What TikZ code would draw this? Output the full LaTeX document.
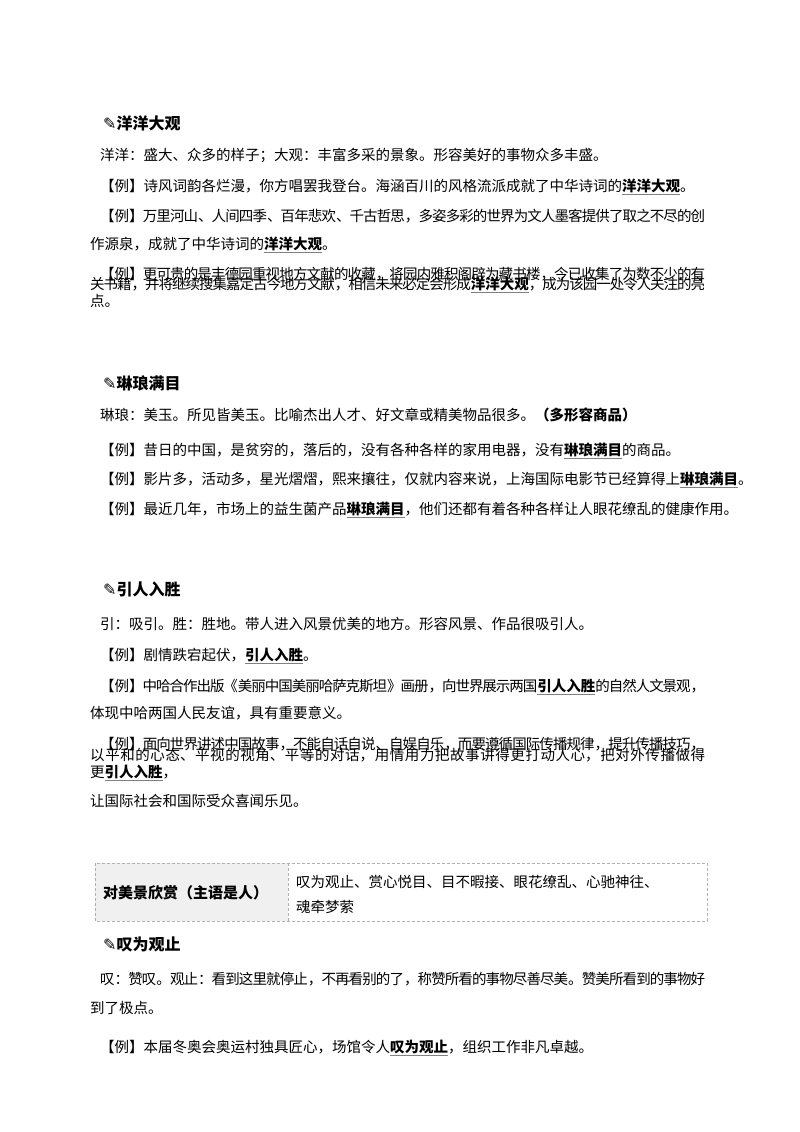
\documentclass[tikz,border=0pt]{standalone}
\usepackage{fontspec}
\setmainfont{Noto Sans CJK SC}
\newfontfamily\symf{DejaVu Sans}
\XeTeXlinebreaklocale "zh"
\XeTeXlinebreakskip=0pt plus 2pt minus 1.5pt
\newsavebox\kwbox
\newcommand\kw[1]{\sbox\kwbox{\bfseries #1}\rlap{\hbox to\wd\kwbox{\color{gray}\xleaders\hbox{\vrule height -2.6pt depth 3.2pt width 1pt\vrule height -3.2pt depth 3.8pt width 1pt}\hfil}}\usebox\kwbox}
\newcommand\fl[1]{\vbox{\hsize=615pt\parfillskip=0pt\parindent=0pt\leftskip=0pt\rightskip=0pt #1}}
\newcommand\fli[1]{\fl{\hskip10pt #1}}
\newcommand\ind{\hskip10pt}
\tikzset{ln/.style={anchor=base west,inner sep=0pt,font=\fontsize{14.5}{17}\selectfont},
hd/.style={anchor=base west,inner sep=0pt,font=\fontsize{16}{19}\selectfont\bfseries}}
\begin{document}
\begin{tikzpicture}[x=1pt,y=-1pt]
\useasboundingbox[fill=white] (0,0) rectangle (800,1132);
% section 1
\node[hd] (h1) at (103,129) {{\symf ✎}洋洋大观};
\node[ln] (a1) at (90,160) {\ind 洋洋：盛大、众多的样子；大观：丰富多采的景象。形容美好的事物众多丰盛。};
\node[ln] (a2) at (90,191) {\ind 【例】诗风词韵各烂漫，你方唱罢我登台。海涵百川的风格流派成就了中华诗词的\kw{洋洋大观}。};
\node[ln] (a3) at (90,221) {\fli{【例】万里河山、人间四季、百年悲欢、千古哲思，多姿多彩的世界为文人墨客提供了取之不尽的创}};
\node[ln] (a4) at (90,249) {作源泉，成就了中华诗词的\kw{洋洋大观}。};
\node[ln] (a5) at (90,279) {\fli{【例】更可贵的是丰德园重视地方文献的收藏，将园内雅积阁辟为藏书楼，今已收集了为数不少的有}};
\node[ln] (a6) at (90,306) {\fl{关书籍，并将继续搜集嘉定古今地方文献，相信未来必定会形成\kw{洋洋大观}，成为该园一处令人关注的亮点。}};
% section 2
\node[hd] (h2) at (103,389) {{\symf ✎}琳琅满目};
\node[ln] (b1) at (90,420) {\ind 琳琅：美玉。所见皆美玉。比喻杰出人才、好文章或精美物品很多。\textbf{（多形容商品）}};
\node[ln] (b2) at (90,455) {\ind 【例】昔日的中国，是贫穷的，落后的，没有各种各样的家用电器，没有\kw{琳琅满目}的商品。};
\node[ln] (b3) at (90,484) {\ind 【例】影片多，活动多，星光熠熠，熙来攘往，仅就内容来说，上海国际电影节已经算得上\kw{琳琅满目}。};
\node[ln] (b4) at (90,514) {\ind 【例】最近几年，市场上的益生菌产品\kw{琳琅满目}，他们还都有着各种各样让人眼花缭乱的健康作用。};
% section 3
\node[hd] (h3) at (103,595) {{\symf ✎}引人入胜};
\node[ln] (c1) at (90,629) {\ind 引：吸引。胜：胜地。带人进入风景优美的地方。形容风景、作品很吸引人。};
\node[ln] (c2) at (90,660) {\ind 【例】剧情跌宕起伏，\kw{引人入胜}。};
\node[ln] (c3) at (90,691) {\fli{【例】中哈合作出版《美丽中国美丽哈萨克斯坦》画册，向世界展示两国\kw{引人入胜}的自然人文景观，}};
\node[ln] (c4) at (90,718) {体现中哈两国人民友谊，具有重要意义。};
\node[ln] (c5) at (90,749) {\fli{【例】面向世界讲述中国故事，不能自话自说、自娱自乐，而要遵循国际传播规律，提升传播技巧，}};
\node[ln] (c6) at (90,777) {\fl{以平和的心态、平视的视角、平等的对话，用情用力把故事讲得更打动人心，把对外传播做得更\kw{引人入胜}，}};
\node[ln] (c7) at (90,806) {让国际社会和国际受众喜闻乐见。};
% table
\path[fill=gray!12] (95,863) rectangle (288,921);
\draw[gray!60,densely dashed,line width=0.5pt] (95,863) rectangle (707,921) (288,863) -- (288,921);
\node[hd,font=\fontsize{15}{18}\selectfont\bfseries] (t1) at (103,898) {对美景欣赏（主语是人）};
\node[ln] (t2) at (296,887) {叹为观止、赏心悦目、目不暇接、眼花缭乱、心驰神往、};
\node[ln] (t3) at (296,912) {魂牵梦萦};
% section 4
\node[hd] (h4) at (103,950) {{\symf ✎}叹为观止};
\node[ln] (d1) at (90,984) {\fli{叹：赞叹。观止：看到这里就停止，不再看别的了，称赞所看的事物尽善尽美。赞美所看到的事物好}};
\node[ln] (d2) at (90,1013) {到了极点。};
\node[ln] (d3) at (90,1052) {\ind 【例】本届冬奥会奥运村独具匠心，场馆令人\kw{叹为观止}，组织工作非凡卓越。};
\end{tikzpicture}
\end{document}
